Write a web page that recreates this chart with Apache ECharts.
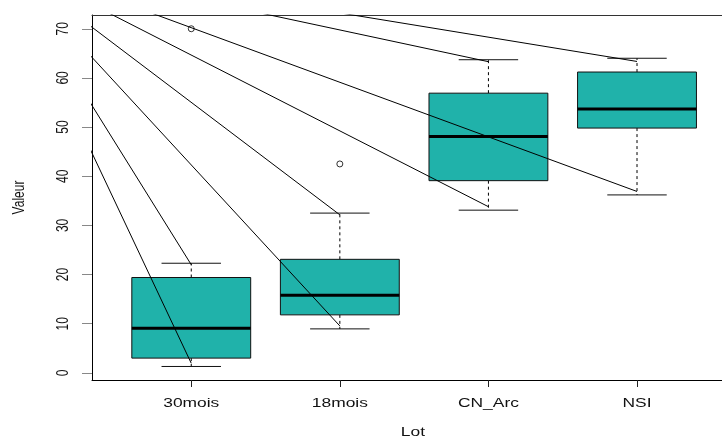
<!DOCTYPE html>
<html>
<head>
<meta charset="utf-8">
<script src="https://cdn.jsdelivr.net/npm/echarts@6/dist/echarts.min.js"></script>
<style>
  html, body { margin: 0; padding: 0; background: #ffffff; }
  #chart { width: 722px; height: 438px; }
</style>
</head>
<body>
<div id="chart"></div>
<script>
// Groups shown along the horizontal axis
const categories = ['30mois', '18mois', 'CN_Arc', 'NSI'];

// Five-number summaries per group
const whiskerLow  = [1.3, 8.95, 33.1, 36.2];
const q1          = [3.0, 11.8, 39.1, 49.8];
const medians     = [9.1, 15.8, 48.1, 53.7];
const q3          = [19.4, 23.1, 56.9, 61.2];
const whiskerHigh = [22.3, 32.5, 63.7, 64.0];

// Outlying observations: [group index, value]
const outlierGroup = [0, 1];
const outlierValue = [70.0, 42.5];

// Fan of straight segments from a common origin towards each whisker end
const rayOrigin   = [-0.29, 84.55];
const rayEndHigh  = [22.0, 32.15, 63.3, 63.35];
const rayEndLow   = [1.95, 9.55, 33.8, 36.9];

// Axis tick labels
const yTicks = [0, 10, 20, 30, 40, 50, 60, 70];
const xTitle = 'Lot';
const yTitle = 'Valeur';

// The plotting region runs past the right edge of the page
const X_MIN = 0.332, X_MAX = 4.572;
const Y_MIN = -1.45, Y_MAX = 72.8;
const FONT = '12px "Liberation Sans", Arial, sans-serif';
const STRETCH = 1.45;

const chart = echarts.init(document.getElementById('chart'), null, { renderer: 'canvas' });

const boxData = categories.map((c, i) => [i + 1, whiskerLow[i], q1[i], medians[i], q3[i], whiskerHigh[i]]);

const raySeries = [];
categories.forEach((c, i) => {
  [rayEndHigh[i], rayEndLow[i]].forEach(v => {
    raySeries.push({
      type: 'line',
      data: [rayOrigin, [i + 1, v]],
      symbol: 'none',
      clip: true,
      silent: true,
      z: 5,
      lineStyle: { color: '#000', width: 1 }
    });
  });
});

const option = {
  animation: false,
  backgroundColor: '#ffffff',
  grid: { left: 92, top: 15, right: 0, height: 365, containLabel: false },
  xAxis: [
    {
      type: 'value', min: X_MIN, max: X_MAX, position: 'bottom',
      axisLine: { show: true, onZero: false, lineStyle: { color: '#000', width: 1 } },
      axisTick: { show: true, customValues: [1, 2, 3, 4], length: 7, lineStyle: { color: '#222' } },
      axisLabel: { show: false },
      splitLine: { show: false }
    },
    {
      type: 'value', min: X_MIN, max: X_MAX, position: 'top',
      axisLine: { show: true, onZero: false, lineStyle: { color: '#333', width: 1 } },
      axisTick: { show: false }, axisLabel: { show: false }, splitLine: { show: false }
    }
  ],
  yAxis: {
    type: 'value', min: Y_MIN, max: Y_MAX,
    axisLine: { show: true, onZero: false, lineStyle: { color: '#000', width: 1 } },
    axisTick: { show: true, customValues: yTicks, length: 10, lineStyle: { color: '#888' } },
    axisLabel: { show: false },
    splitLine: { show: false }
  },
  series: [
    {
      type: 'custom',
      data: boxData,
      z: 2,
      clip: true,
      renderItem: function (params, api) {
        const x = api.value(0);
        const lo = api.coord([x, api.value(1)]);
        const b = api.coord([x, api.value(2)]);
        const m = api.coord([x, api.value(3)]);
        const t = api.coord([x, api.value(4)]);
        const hi = api.coord([x, api.value(5)]);
        const half = api.size([0.8, 0])[0] / 2;
        const cap = half / 2;
        const cx = lo[0];
        const dash = { stroke: '#000', lineWidth: 1, lineDash: [3, 3] };
        const solid = { stroke: '#111', lineWidth: 1 };
        return {
          type: 'group',
          children: [
            { type: 'line', shape: { x1: cx, y1: t[1], x2: cx, y2: hi[1] }, style: dash },
            { type: 'line', shape: { x1: cx, y1: b[1], x2: cx, y2: lo[1] }, style: dash },
            { type: 'line', shape: { x1: cx - cap, y1: hi[1], x2: cx + cap, y2: hi[1] }, style: solid },
            { type: 'line', shape: { x1: cx - cap, y1: lo[1], x2: cx + cap, y2: lo[1] }, style: solid },
            { type: 'rect', shape: { x: cx - half, y: t[1], width: 2 * half, height: b[1] - t[1] },
              style: { fill: '#20B2AA', stroke: '#111', lineWidth: 1 } },
            { type: 'line', shape: { x1: cx - half, y1: m[1], x2: cx + half, y2: m[1] },
              style: { stroke: '#000', lineWidth: 3 } }
          ]
        };
      }
    },
    {
      type: 'scatter',
      data: outlierGroup.map((g, k) => [g + 1, outlierValue[k]]),
      symbol: 'circle',
      symbolSize: 6,
      z: 4,
      itemStyle: { color: 'rgba(0,0,0,0)', borderColor: '#000', borderWidth: 1 }
    }
  ].concat(raySeries)
};

chart.setOption(option);

// Axis texts, widened horizontally to the proportions of the plot
const texts = [];
const centred = { textAlign: 'center', textVerticalAlign: 'middle', align: 'center', verticalAlign: 'middle' };
categories.forEach((c, i) => {
  const p = chart.convertToPixel({ gridIndex: 0 }, [i + 1, Y_MIN]);
  texts.push({
    type: 'text', x: p[0], y: p[1] + 23.5, scaleX: STRETCH, z: 10,
    style: Object.assign({ text: c, font: FONT, fill: '#111' }, centred)
  });
});
yTicks.forEach(v => {
  const p = chart.convertToPixel({ gridIndex: 0 }, [X_MIN, v]);
  texts.push({
    type: 'text', x: p[0] - 28.5, y: p[1], rotation: Math.PI / 2, scaleY: STRETCH, z: 10,
    style: Object.assign({ text: String(v), font: FONT, fill: '#111' }, centred)
  });
});
// Axis titles are centred on the full plotting region (1 unit wider on the right than the page shows)
const gTop = chart.convertToPixel({ gridIndex: 0 }, [X_MIN, Y_MAX]);
const gBot = chart.convertToPixel({ gridIndex: 0 }, [X_MIN + 4.32, Y_MIN]);
texts.push({
  type: 'text', x: (gTop[0] + gBot[0]) / 2, y: gBot[1] + 52.5, scaleX: STRETCH, z: 10,
  style: Object.assign({ text: xTitle, font: FONT, fill: '#111' }, centred)
});
texts.push({
  type: 'text', x: gTop[0] - 73, y: (gTop[1] + gBot[1]) / 2, rotation: Math.PI / 2, scaleY: STRETCH, z: 10,
  style: Object.assign({ text: yTitle, font: FONT, fill: '#111' }, centred)
});
chart.setOption({ graphic: texts });
</script>
</body>
</html>
